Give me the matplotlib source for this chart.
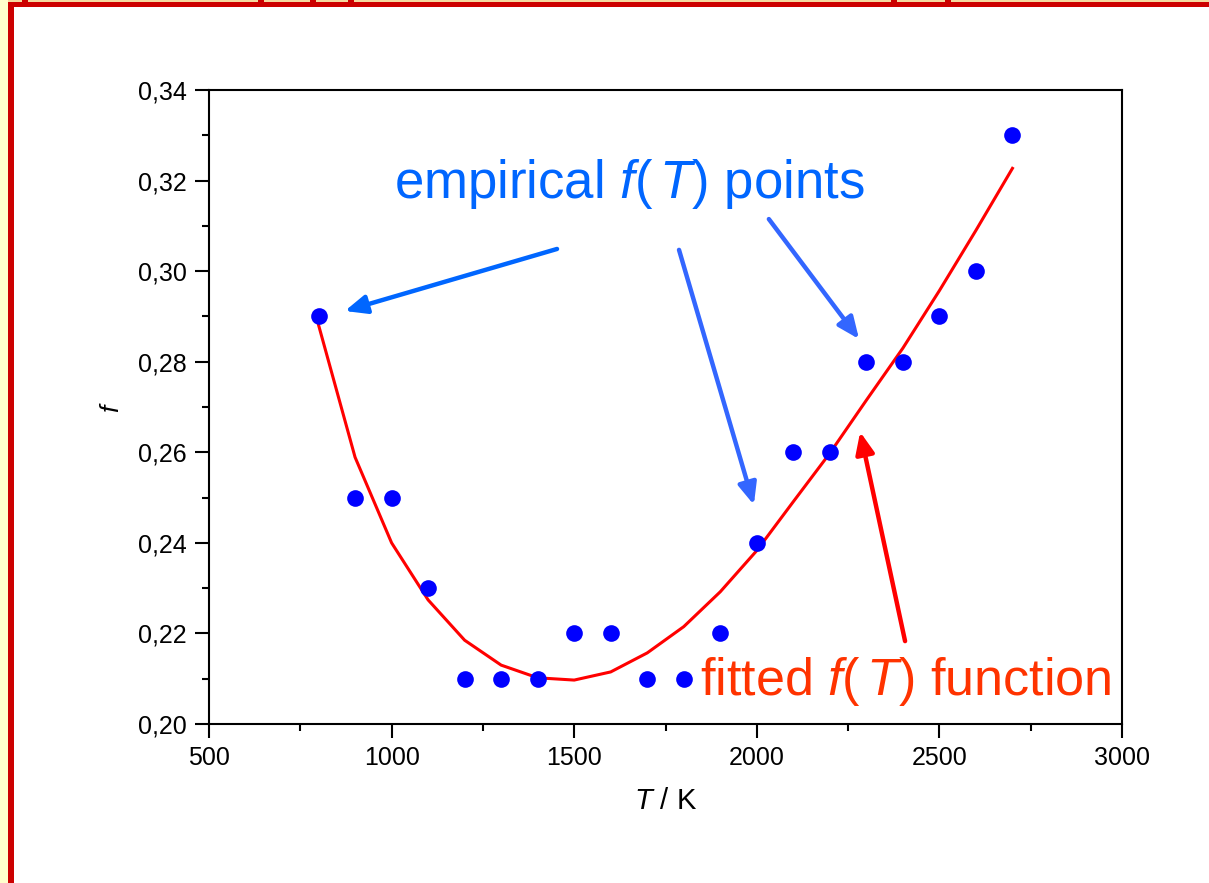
import matplotlib
matplotlib.use("Agg")
import matplotlib.pyplot as plt
from matplotlib.patches import Rectangle
from matplotlib.ticker import FuncFormatter, MultipleLocator

plt.rcParams["font.family"] = ["Liberation Sans", "DejaVu Sans"]
plt.rcParams["mathtext.fontset"] = "custom"
plt.rcParams["mathtext.rm"] = "Liberation Sans"
plt.rcParams["mathtext.it"] = "Liberation Sans:italic"

# empirical points
T_emp = [800, 900, 1000, 1100, 1200, 1300, 1400, 1500, 1600, 1700,
         1800, 1900, 2000, 2100, 2200, 2300, 2400, 2500, 2600, 2700]
f_emp = [0.29, 0.25, 0.25, 0.23, 0.21, 0.21, 0.21, 0.22, 0.22, 0.21,
         0.21, 0.22, 0.24, 0.26, 0.26, 0.28, 0.28, 0.29, 0.30, 0.33]

# fitted curve evaluated on the same grid
T_fit = T_emp
f_fit = [0.2881, 0.2589, 0.2400, 0.2274, 0.2185, 0.2130, 0.2102, 0.2097,
         0.2115, 0.2157, 0.2215, 0.2292, 0.2383, 0.2491, 0.2598, 0.2715,
         0.2830, 0.2957, 0.3090, 0.3227]

BLUE_TXT = "#0066ff"
BLUE_ARR = "#3366ff"
RED_TXT = "#ff3300"

fig = plt.figure(figsize=(12.09, 8.83), dpi=100)

# slide frame: yellow strip + red rule on the left and top
fig.add_artist(Rectangle((0, 0), 7.5 / 1209, 1, transform=fig.transFigure,
                         facecolor="#ffffcc", edgecolor="none"))
fig.add_artist(Rectangle((7.5 / 1209, 0), 6.5 / 1209, 1 - 1.5 / 883,
                         transform=fig.transFigure,
                         facecolor="#cc0000", edgecolor="none"))
fig.add_artist(Rectangle((7.5 / 1209, 1 - 1.7 / 883), 1, 1.7 / 883,
                         transform=fig.transFigure,
                         facecolor="#f5d9a0", edgecolor="none"))
fig.add_artist(Rectangle((7.5 / 1209, 1 - 6.8 / 883), 1, 5.2 / 883,
                         transform=fig.transFigure,
                         facecolor="#cc0000", edgecolor="none"))
for nx in [22, 258, 310, 348, 891, 945]:
    fig.add_artist(Rectangle((nx / 1209, 1 - 2.5 / 883), 6 / 1209, 2.5 / 883,
                             transform=fig.transFigure,
                             facecolor="#cc0000", edgecolor="none"))

ax = fig.add_axes([209 / 1209, 1 - 724 / 883, 913 / 1209, 634 / 883])

ax.plot(T_fit, f_fit, color="#ff0000", lw=2.2, zorder=2)
ax.plot(T_emp, f_emp, "o", color="#0000ff", ms=12, mec="none", zorder=3)

ax.set_xlim(500, 3000)
ax.set_ylim(0.20, 0.34)
ax.xaxis.set_major_locator(MultipleLocator(500))
ax.xaxis.set_minor_locator(MultipleLocator(250))
ax.yaxis.set_major_locator(MultipleLocator(0.02))
ax.yaxis.set_minor_locator(MultipleLocator(0.01))
ax.yaxis.set_major_formatter(FuncFormatter(lambda v, p: f"{v:.2f}".replace(".", ",")))

for s in ax.spines.values():
    s.set_linewidth(1.5)
ax.tick_params(which="major", direction="out", length=10, width=1.5,
               labelsize=18, pad=6)
ax.tick_params(which="minor", direction="out", length=5, width=1.5)
ax.tick_params(top=False, right=False, which="both")

ax.set_xlabel("$T$ / K", fontsize=21, labelpad=12)
ax.set_ylabel("$f$", fontsize=19, labelpad=10)

# callouts
ax.text(1652, 0.3162, "empirical $f$($\\,T$) points", color=BLUE_TXT,
        fontsize=38, ha="center", va="baseline")
ax.text(1845, 0.2064, "fitted $f$($\\,T$) function", color=RED_TXT,
        fontsize=37.5, ha="left", va="baseline")

arrows = [
    ((1453, 0.3049), (872, 0.2912), BLUE_TXT),
    ((1787, 0.3047), (1992, 0.2484), BLUE_ARR),
    ((2033, 0.3115), (2280, 0.2850), BLUE_ARR),
    ((2406, 0.2183), (2283, 0.2645), "#ff0000"),
]
for start, tip, col in arrows:
    ax.annotate("", xy=tip, xytext=start,
                arrowprops=dict(arrowstyle="-|>,head_length=0.65,head_width=0.28",
                                mutation_scale=20, lw=3.2, color=col,
                                shrinkA=0, shrinkB=0))

fig.savefig("out.png", dpi=100)
